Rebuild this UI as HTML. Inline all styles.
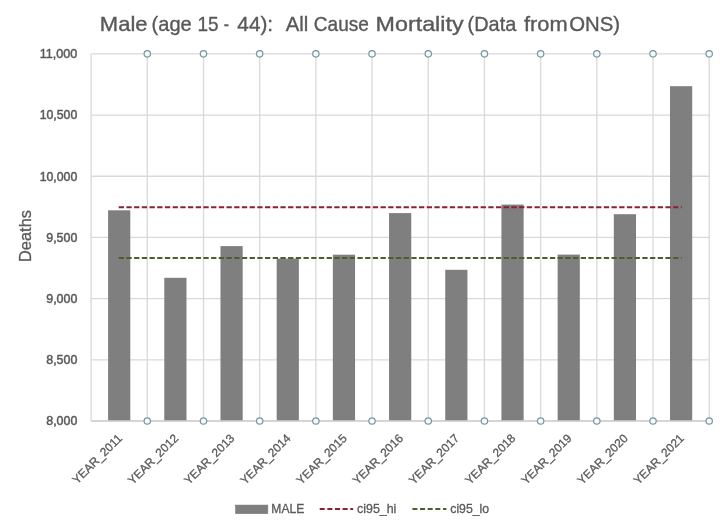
<!DOCTYPE html>
<html><head><meta charset="utf-8"><style>
html,body{margin:0;padding:0;background:#fff;}
body{width:720px;height:526px;overflow:hidden;}
svg{display:block;will-change:transform;}
#wrap{width:720px;height:526px;}
text{font-family:"Liberation Sans",sans-serif;fill:#595959;}
.yl{font-size:12px;stroke:#595959;stroke-width:0.45px;}
.xl{font-size:11.9px;stroke:#595959;stroke-width:0.3px;}
.at{font-size:16.4px;stroke:#595959;stroke-width:0.3px;}
.lg{font-size:12.3px;stroke:#595959;stroke-width:0.3px;}
.tt{font-size:19.8px;stroke:#595959;stroke-width:0.35px;}
</style></head><body>
<div id="wrap"><svg width="720" height="526" viewBox="0 0 720 526">
<g>
<rect width="720" height="526" fill="#fff"/>
<line x1="91.1" y1="53.85" x2="709.2" y2="53.85" stroke="#d9d9d9" stroke-width="1.3"/>
<line x1="91.1" y1="115.04" x2="709.2" y2="115.04" stroke="#d9d9d9" stroke-width="1.3"/>
<line x1="91.1" y1="176.23" x2="709.2" y2="176.23" stroke="#d9d9d9" stroke-width="1.3"/>
<line x1="91.1" y1="237.42" x2="709.2" y2="237.42" stroke="#d9d9d9" stroke-width="1.3"/>
<line x1="91.1" y1="298.62" x2="709.2" y2="298.62" stroke="#d9d9d9" stroke-width="1.3"/>
<line x1="91.1" y1="359.81" x2="709.2" y2="359.81" stroke="#d9d9d9" stroke-width="1.3"/>
<line x1="91.1" y1="421.00" x2="709.2" y2="421.00" stroke="#d9d9d9" stroke-width="1.3"/>
<line x1="91.10" y1="53.85" x2="91.10" y2="421.0" stroke="#d9d9d9" stroke-width="1.3"/>
<line x1="147.29" y1="53.85" x2="147.29" y2="421.0" stroke="#d9d9d9" stroke-width="1.3"/>
<line x1="203.48" y1="53.85" x2="203.48" y2="421.0" stroke="#d9d9d9" stroke-width="1.3"/>
<line x1="259.67" y1="53.85" x2="259.67" y2="421.0" stroke="#d9d9d9" stroke-width="1.3"/>
<line x1="315.86" y1="53.85" x2="315.86" y2="421.0" stroke="#d9d9d9" stroke-width="1.3"/>
<line x1="372.05" y1="53.85" x2="372.05" y2="421.0" stroke="#d9d9d9" stroke-width="1.3"/>
<line x1="428.25" y1="53.85" x2="428.25" y2="421.0" stroke="#d9d9d9" stroke-width="1.3"/>
<line x1="484.44" y1="53.85" x2="484.44" y2="421.0" stroke="#d9d9d9" stroke-width="1.3"/>
<line x1="540.63" y1="53.85" x2="540.63" y2="421.0" stroke="#d9d9d9" stroke-width="1.3"/>
<line x1="596.82" y1="53.85" x2="596.82" y2="421.0" stroke="#d9d9d9" stroke-width="1.3"/>
<line x1="653.01" y1="53.85" x2="653.01" y2="421.0" stroke="#d9d9d9" stroke-width="1.3"/>
<line x1="709.20" y1="53.85" x2="709.20" y2="421.0" stroke="#d9d9d9" stroke-width="1.3"/>
<rect x="108.10" y="210.30" width="22.2" height="210.70" fill="#7f7f7f"/>
<rect x="164.29" y="277.80" width="22.2" height="143.20" fill="#7f7f7f"/>
<rect x="220.48" y="246.10" width="22.2" height="174.90" fill="#7f7f7f"/>
<rect x="276.67" y="258.60" width="22.2" height="162.40" fill="#7f7f7f"/>
<rect x="332.86" y="254.70" width="22.2" height="166.30" fill="#7f7f7f"/>
<rect x="389.05" y="213.10" width="22.2" height="207.90" fill="#7f7f7f"/>
<rect x="445.24" y="269.80" width="22.2" height="151.20" fill="#7f7f7f"/>
<rect x="501.43" y="204.60" width="22.2" height="216.40" fill="#7f7f7f"/>
<rect x="557.62" y="254.60" width="22.2" height="166.40" fill="#7f7f7f"/>
<rect x="613.81" y="214.20" width="22.2" height="206.80" fill="#7f7f7f"/>
<rect x="670.00" y="86.20" width="22.2" height="334.80" fill="#7f7f7f"/>
<line x1="91.1" y1="421.0" x2="709.2" y2="421.0" stroke="#d0d0d0" stroke-width="1.3"/>
<line x1="118.70" y1="207.2" x2="681.70" y2="207.2" stroke="#8a2233" stroke-width="2" stroke-dasharray="5.3 2.4"/>
<line x1="118.70" y1="258.1" x2="681.70" y2="258.1" stroke="#4a5f2a" stroke-width="2" stroke-dasharray="5.3 2.4"/>
<circle cx="147.29" cy="53.85" r="3.2" fill="#f2fafb" stroke="#76959f" stroke-width="1.2"/>
<circle cx="147.29" cy="421.0" r="3.2" fill="#f2fafb" stroke="#76959f" stroke-width="1.2"/>
<circle cx="203.48" cy="53.85" r="3.2" fill="#f2fafb" stroke="#76959f" stroke-width="1.2"/>
<circle cx="203.48" cy="421.0" r="3.2" fill="#f2fafb" stroke="#76959f" stroke-width="1.2"/>
<circle cx="259.67" cy="53.85" r="3.2" fill="#f2fafb" stroke="#76959f" stroke-width="1.2"/>
<circle cx="259.67" cy="421.0" r="3.2" fill="#f2fafb" stroke="#76959f" stroke-width="1.2"/>
<circle cx="315.86" cy="53.85" r="3.2" fill="#f2fafb" stroke="#76959f" stroke-width="1.2"/>
<circle cx="315.86" cy="421.0" r="3.2" fill="#f2fafb" stroke="#76959f" stroke-width="1.2"/>
<circle cx="372.05" cy="53.85" r="3.2" fill="#f2fafb" stroke="#76959f" stroke-width="1.2"/>
<circle cx="372.05" cy="421.0" r="3.2" fill="#f2fafb" stroke="#76959f" stroke-width="1.2"/>
<circle cx="428.25" cy="53.85" r="3.2" fill="#f2fafb" stroke="#76959f" stroke-width="1.2"/>
<circle cx="428.25" cy="421.0" r="3.2" fill="#f2fafb" stroke="#76959f" stroke-width="1.2"/>
<circle cx="484.44" cy="53.85" r="3.2" fill="#f2fafb" stroke="#76959f" stroke-width="1.2"/>
<circle cx="484.44" cy="421.0" r="3.2" fill="#f2fafb" stroke="#76959f" stroke-width="1.2"/>
<circle cx="540.63" cy="53.85" r="3.2" fill="#f2fafb" stroke="#76959f" stroke-width="1.2"/>
<circle cx="540.63" cy="421.0" r="3.2" fill="#f2fafb" stroke="#76959f" stroke-width="1.2"/>
<circle cx="596.82" cy="53.85" r="3.2" fill="#f2fafb" stroke="#76959f" stroke-width="1.2"/>
<circle cx="596.82" cy="421.0" r="3.2" fill="#f2fafb" stroke="#76959f" stroke-width="1.2"/>
<circle cx="653.01" cy="53.85" r="3.2" fill="#f2fafb" stroke="#76959f" stroke-width="1.2"/>
<circle cx="653.01" cy="421.0" r="3.2" fill="#f2fafb" stroke="#76959f" stroke-width="1.2"/>
<circle cx="709.20" cy="53.85" r="3.2" fill="#f2fafb" stroke="#76959f" stroke-width="1.2"/>
<circle cx="709.20" cy="421.0" r="3.2" fill="#f2fafb" stroke="#76959f" stroke-width="1.2"/>
<text x="39.65" y="58.15" class="yl" textLength="37.64" lengthAdjust="spacingAndGlyphs">11,000</text>
<text x="39.68" y="119.34" class="yl" textLength="37.60" lengthAdjust="spacingAndGlyphs">10,500</text>
<text x="39.68" y="180.53" class="yl" textLength="37.60" lengthAdjust="spacingAndGlyphs">10,000</text>
<text x="46.24" y="241.72" class="yl" textLength="31.09" lengthAdjust="spacingAndGlyphs">9,500</text>
<text x="46.24" y="302.92" class="yl" textLength="31.09" lengthAdjust="spacingAndGlyphs">9,000</text>
<text x="46.24" y="364.11" class="yl" textLength="31.09" lengthAdjust="spacingAndGlyphs">8,500</text>
<text x="46.24" y="425.30" class="yl" textLength="31.09" lengthAdjust="spacingAndGlyphs">8,000</text>
<text x="122.90" y="439.0" text-anchor="end" class="xl" transform="rotate(-45 122.90 439.0)">YEAR_2011</text>
<text x="179.09" y="439.0" text-anchor="end" class="xl" transform="rotate(-45 179.09 439.0)">YEAR_2012</text>
<text x="235.28" y="439.0" text-anchor="end" class="xl" transform="rotate(-45 235.28 439.0)">YEAR_2013</text>
<text x="291.47" y="439.0" text-anchor="end" class="xl" transform="rotate(-45 291.47 439.0)">YEAR_2014</text>
<text x="347.66" y="439.0" text-anchor="end" class="xl" transform="rotate(-45 347.66 439.0)">YEAR_2015</text>
<text x="403.85" y="439.0" text-anchor="end" class="xl" transform="rotate(-45 403.85 439.0)">YEAR_2016</text>
<text x="460.04" y="439.0" text-anchor="end" class="xl" transform="rotate(-45 460.04 439.0)">YEAR_2017</text>
<text x="516.23" y="439.0" text-anchor="end" class="xl" transform="rotate(-45 516.23 439.0)">YEAR_2018</text>
<text x="572.42" y="439.0" text-anchor="end" class="xl" transform="rotate(-45 572.42 439.0)">YEAR_2019</text>
<text x="628.61" y="439.0" text-anchor="end" class="xl" transform="rotate(-45 628.61 439.0)">YEAR_2020</text>
<text x="684.80" y="439.0" text-anchor="end" class="xl" transform="rotate(-45 684.80 439.0)">YEAR_2021</text>
<text x="31" y="236" text-anchor="middle" class="at" transform="rotate(-90 31 236)">Deaths</text>
<rect x="235.6" y="505.1" width="32.2" height="8.5" fill="#7f7f7f" stroke="#747474" stroke-width="0.6"/>
<text x="271.33" y="513.00" class="lg" textLength="32.89" lengthAdjust="spacingAndGlyphs">MALE</text>
<line x1="319.7" y1="509" x2="353.1" y2="509" stroke="#8a2233" stroke-width="2" stroke-dasharray="5 2.64"/>
<text x="357.04" y="513.00" class="lg" textLength="39.32" lengthAdjust="spacingAndGlyphs">ci95_hi</text>
<line x1="412.4" y1="509" x2="446.4" y2="509" stroke="#4a5f2a" stroke-width="2" stroke-dasharray="5 2.64"/>
<text x="450.25" y="513.00" class="lg" textLength="38.93" lengthAdjust="spacingAndGlyphs">ci95_lo</text>
<text x="99.84" y="31.10" class="tt" textLength="47.71" lengthAdjust="spacingAndGlyphs">Male</text>
<text x="151.60" y="31.10" class="tt" textLength="40.14" lengthAdjust="spacingAndGlyphs">(age</text>
<text x="197.48" y="31.10" class="tt" textLength="21.13" lengthAdjust="spacingAndGlyphs">15</text>
<text x="223.70" y="31.10" class="tt" textLength="5.17" lengthAdjust="spacingAndGlyphs">-</text>
<text x="237.38" y="31.10" class="tt" textLength="35.75" lengthAdjust="spacingAndGlyphs">44):</text>
<text x="285.70" y="31.10" class="tt" textLength="22.55" lengthAdjust="spacingAndGlyphs">All</text>
<text x="313.85" y="31.10" class="tt" textLength="55.02" lengthAdjust="spacingAndGlyphs">Cause</text>
<text x="375.54" y="31.10" class="tt" textLength="88.04" lengthAdjust="spacingAndGlyphs">Mortality</text>
<text x="467.61" y="31.10" class="tt" textLength="48.60" lengthAdjust="spacingAndGlyphs">(Data</text>
<text x="523.97" y="31.10" class="tt" textLength="43.66" lengthAdjust="spacingAndGlyphs">from</text>
<text x="569.28" y="31.10" class="tt" textLength="50.84" lengthAdjust="spacingAndGlyphs">ONS)</text>
</g>
</svg></div>
</body></html>
